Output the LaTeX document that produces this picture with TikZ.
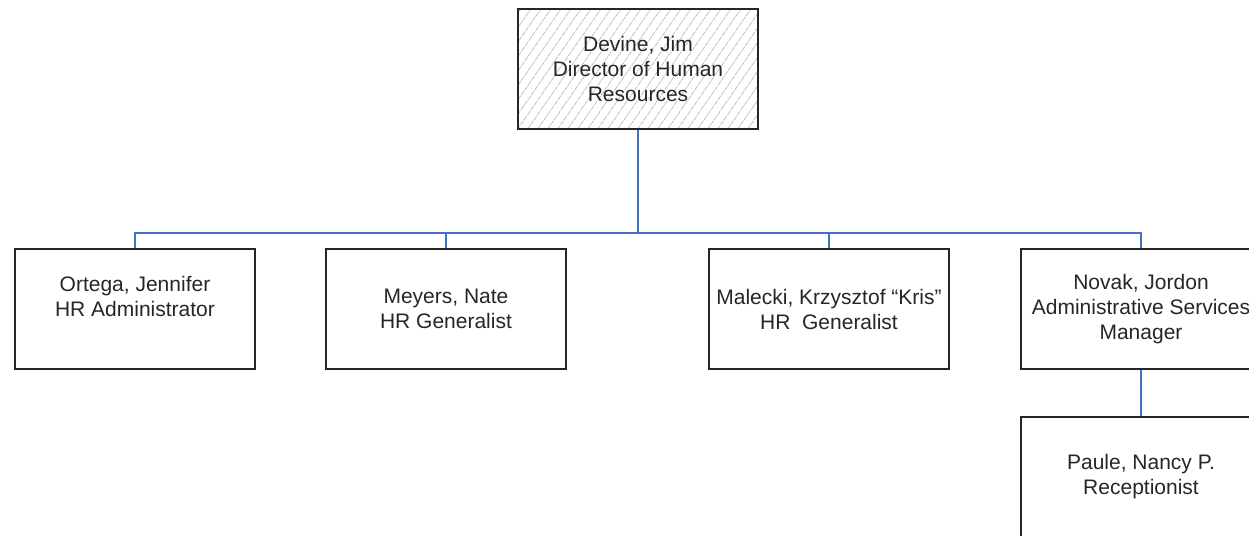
\documentclass[tikz,border=0pt]{standalone}
\usepackage{fontspec}
\setmainfont{Liberation Sans}
\usetikzlibrary{backgrounds, calc}
\definecolor{linkblue}{RGB}{68,114,196}
\tikzset{
  post/.style={draw=black!85, line width=1.6pt, minimum width=240pt,
    minimum height=120pt, align=center, inner sep=0pt, text=black!85,
    font=\fontsize{21}{25}\selectfont},
  link/.style={draw=linkblue, line width=1.5pt},
  hatch/.style={draw=black!28, line width=0.7pt, dash pattern=on 5pt off 1pt},
}

\begin{document}
\begin{tikzpicture}[x=1pt, y=-1pt]
  \useasboundingbox (0,0) rectangle (1249,535);
  \clip (0,0) rectangle (1249,535);

  % 主管
  \node[post] (devine) at (638,69) {Devine, Jim\\Director of Human\\Resources};
  % 斜线底纹
  \begin{scope}[on background layer]
    \clip (devine.south west) rectangle (devine.north east);
    \foreach \k in {-10,...,25}
      \draw[hatch] ($(devine.south west)+(\k*10,0)$) -- ++(90,-130);
  \end{scope}

  % 下属
  \node[post] (ortega)  at (135,309)  {Ortega, Jennifer\\HR Administrator\\~};
  \node[post] (meyers)  at (446,309)  {Meyers, Nate\\HR Generalist};
  \node[post] (malecki) at (829,309)  {Malecki, Krzysztof “Kris”\\HR~~Generalist};
  \node[post] (novak)   at (1141,309) {Novak, Jordon\\Administrative Services\\Manager};
  \node[post] (paule)   at (1141,477) {Paule, Nancy P.\\Receptionist};

  % 连线
  \draw[link] (devine.south) -- ++(0,103) coordinate (bus);
  \draw[link] (ortega.north) |- (bus) -| (novak.north);
  \draw[link] (meyers.north) -- (meyers.north |- bus);
  \draw[link] (malecki.north) -- (malecki.north |- bus);
  \draw[link] (novak.south) -- (paule.north);
\end{tikzpicture}
\end{document}
